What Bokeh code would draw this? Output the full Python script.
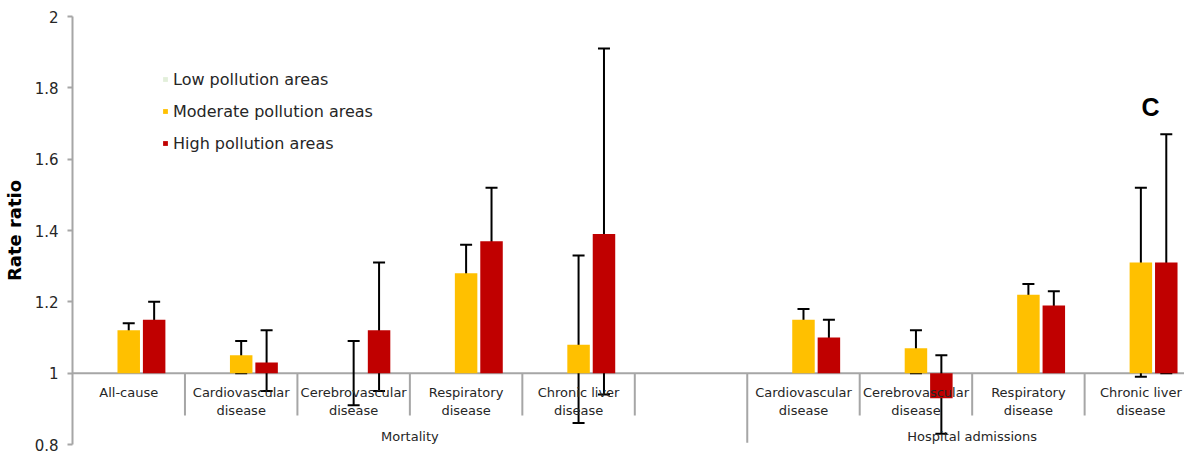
import math
from bokeh.plotting import figure
from bokeh.models import (ColumnDataSource, Whisker, TeeHead, Span, Legend,
                          LegendItem, Label, FixedTicker, Range1d)
from bokeh.core.properties import value
from bokeh.embed import file_html
from bokeh.resources import INLINE

nan = float("nan")

# ---------------- data ----------------
categories = ["All-cause", "Cardiovascular\ndisease", "Cerebrovascular\ndisease",
              "Respiratory\ndisease", "Chronic liver\ndisease", "",
              "Cardiovascular\ndisease", "Cerebrovascular\ndisease",
              "Respiratory\ndisease", "Chronic liver\ndisease"]
groups = ["Mortality"] * 6 + ["Hospital admissions"] * 4

low = [1.00, 1.00, 1.00, 1.00, 1.00, nan, 1.00, 1.00, 1.00, 1.00]

moderate = [1.12, 1.05, 1.00, 1.28, 1.08, nan, 1.15, 1.07, 1.22, 1.31]
moderate_lo = [1.09, 1.00, 0.91, 1.20, 0.86, nan, 1.12, 1.00, 1.20, 0.99]
moderate_hi = [1.14, 1.09, 1.09, 1.36, 1.33, nan, 1.18, 1.12, 1.25, 1.52]

high = [1.15, 1.03, 1.12, 1.37, 1.39, nan, 1.10, 0.93, 1.19, 1.31]
high_lo = [1.10, 0.95, 0.95, 1.22, 0.94, nan, 1.05, 0.83, 1.14, 1.00]
high_hi = [1.20, 1.12, 1.31, 1.52, 1.91, nan, 1.15, 1.05, 1.23, 1.67]

series_names = ["Low pollution areas", "Moderate pollution areas", "High pollution areas"]
series_colors = ["#E2EFDA", "#FFC000", "#C00000"]

yticks = [0.8, 1.0, 1.2, 1.4, 1.6, 1.8, 2.0]
ytick_labels = ["0.8", "1", "1.2", "1.4", "1.6", "1.8", "2"]

panel_letter = "C"
y_title = "Rate ratio"

# ---------------- layout constants ----------------
BASE = 1.0
BAR_W = 0.2
OFFSET = 0.226
AXIS_GRAY = "#a6a6a6"
TEXT = "#262626"
FONT = "DejaVu Sans"

n = len(categories)
centers = [i + 0.5 for i in range(n)]

p = figure(width=1184, height=454,
           x_range=Range1d(0, 9.888), y_range=Range1d(0.8, 2.0),
           output_backend="svg", toolbar_location=None,
           x_axis_location=None,
           min_border_left=71, min_border_top=16, min_border_bottom=10,
           min_border_right=0)
p.xgrid.visible = False
p.ygrid.visible = False
p.outline_line_color = None
p.background_fill_color = "white"
p.border_fill_color = "white"

# y axis
ya = p.yaxis[0]
ya.ticker = FixedTicker(ticks=yticks)
ya.major_label_overrides = {t: l for t, l in zip(yticks, ytick_labels)}
ya.minor_tick_line_color = None
ya.major_tick_in = 0
ya.major_tick_out = 5
ya.axis_line_color = AXIS_GRAY
ya.axis_line_width = 2
ya.major_tick_line_color = AXIS_GRAY
ya.major_tick_line_width = 2
ya.major_label_text_font = FONT
ya.major_label_text_font_size = "15px"
ya.major_label_text_color = TEXT
ya.major_label_standoff = 9
ya.axis_label = y_title
ya.axis_label_text_font = FONT
ya.axis_label_text_font_size = "18px"
ya.axis_label_text_font_style = "bold"
ya.axis_label_text_color = "black"
ya.axis_label_standoff = 7

# baseline at 1
p.add_layout(Span(location=BASE, dimension="width", line_color=AXIS_GRAY,
                  line_width=2, level="underlay"))

# category dividers
bounds_x, bounds_bottom = [], []
for i in range(1, n):
    bounds_x.append(i)
    bounds_bottom.append(0.805 if groups[i] != groups[i - 1] else 0.881)
p.segment(x0=bounds_x, y0=[BASE] * len(bounds_x), x1=bounds_x, y1=bounds_bottom,
          line_color=AXIS_GRAY, line_width=2, level="underlay")

# bars
offsets = [-OFFSET, 0.0, OFFSET]
series_vals = [low, moderate, high]
renderers = []
for vals, off, col in zip(series_vals, offsets, series_colors):
    xs = [c + off for c in centers]
    r = p.vbar(x=xs, top=vals, bottom=BASE, width=BAR_W,
               fill_color=col, line_color=None)
    renderers.append(r)

# error bars
for vals, lo, hi, off in [(moderate, moderate_lo, moderate_hi, 0.0),
                          (high, high_lo, high_hi, OFFSET)]:
    idx = [i for i in range(n) if not math.isnan(vals[i])]
    src = ColumnDataSource(dict(x=[centers[i] + off for i in idx],
                                lo=[lo[i] for i in idx],
                                hi=[hi[i] for i in idx]))
    w = Whisker(source=src, base="x", lower="lo", upper="hi", dimension="height",
                line_color="black", line_width=2,
                upper_head=TeeHead(size=12, line_width=2, line_color="black"),
                lower_head=TeeHead(size=12, line_width=2, line_color="black"))
    p.add_layout(w)

# category labels
p.text(x=centers, y=[0.9658] * n, text=categories, text_align="center",
       text_baseline="top", text_font=value(FONT), text_font_size="13px",
       text_color=TEXT, text_line_height=1.15)

# group labels
group_names, group_centers = [], []
start = 0
for i in range(1, n + 1):
    if i == n or groups[i] != groups[start]:
        group_names.append(groups[start])
        group_centers.append((start + i) / 2)
        start = i
p.text(x=group_centers, y=[0.822] * len(group_names), text=group_names,
       text_align="center", text_baseline="middle", text_font=value(FONT),
       text_font_size="13px", text_color=TEXT)

# legend
legend = Legend(items=[LegendItem(label=nm, renderers=[r])
                       for nm, r in zip(series_names, renderers)],
                location=(90, 291), orientation="vertical",
                glyph_width=6, glyph_height=6, label_height=20, spacing=12,
                label_standoff=5, padding=0, margin=0,
                border_line_color=None, background_fill_alpha=0,
                label_text_font=FONT, label_text_font_size="16px",
                label_text_color=TEXT)
p.add_layout(legend)

# panel letter
p.add_layout(Label(x=9.586, y=1.747, text=panel_letter, text_align="center",
                   text_baseline="alphabetic", text_font="Liberation Sans",
                   text_font_style="bold", text_font_size="25px",
                   text_color="black"))

html = file_html(p, INLINE)
html = html.replace("<head>", "<head><style>html,body{overflow:hidden}</style>", 1)
open("out.html", "w").write(html)
